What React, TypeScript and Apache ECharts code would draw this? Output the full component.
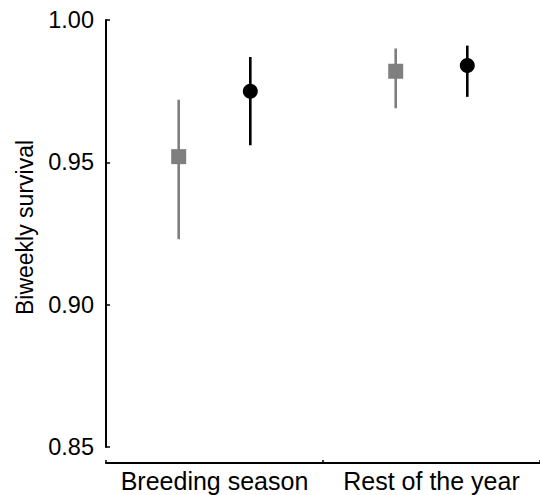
import React, { useEffect, useRef } from "react";
import * as echarts from "echarts";

const categories = ["Breeding season", "Rest of the year"];
const yTicks = [0.85, 0.9, 0.95, 1.0];

// Gray squares
const grayMean = [0.952, 0.982];
const grayLower = [0.923, 0.969];
const grayUpper = [0.972, 0.990];

// Black circles
const blackMean = [0.975, 0.984];
const blackLower = [0.956, 0.973];
const blackUpper = [0.987, 0.991];

const FONT = "'Liberation Sans', Arial, Helvetica, sans-serif";

function buildData(mean: number[], lower: number[], upper: number[]) {
  return categories.map((_, i) => [i, lower[i], mean[i], upper[i]]);
}

function makeRenderer(offset: number, color: string, shape: "square" | "circle") {
  return (params: any, api: any) => {
    const idx = api.value(0);
    const lo = api.coord([idx, api.value(1)]);
    const mid = api.coord([idx, api.value(2)]);
    const hi = api.coord([idx, api.value(3)]);
    const band = api.size([1, 0])[0];
    const x = mid[0] + offset * band;
    const marker =
      shape === "square"
        ? {
            type: "rect",
            shape: { x: x - 7.5, y: mid[1] - 7.5, width: 15, height: 15 },
            style: { fill: color },
          }
        : {
            type: "circle",
            shape: { cx: x, cy: mid[1], r: 7.5 },
            style: { fill: color },
          };
    return {
      type: "group",
      children: [
        {
          type: "line",
          shape: { x1: x, y1: lo[1], x2: x, y2: hi[1] },
          style: { stroke: color, lineWidth: 2.6 },
        },
        marker,
      ],
    };
  };
}

export default function App() {
  const ref = useRef<HTMLDivElement>(null);
  useEffect(() => {
    if (!ref.current) return;
    const chart = echarts.init(ref.current, undefined, { renderer: "svg" });
    chart.setOption({
      animation: false,
      backgroundColor: "#ffffff",
      grid: { left: 106, right: 0, top: 20, bottom: 48, containLabel: false },
      xAxis: {
        type: "category",
        data: categories,
        boundaryGap: true,
        offset: 16,
        axisLine: { show: true, lineStyle: { color: "#000", width: 2 } },
        axisTick: {
          show: true,
          inside: true,
          length: 3,
          interval: 0,
          alignWithLabel: false,
          lineStyle: { color: "#000", width: 1.5 },
        },
        axisLabel: { color: "#000", fontSize: 25, fontFamily: FONT, margin: 5, interval: 0 },
        splitLine: { show: false },
      },
      yAxis: {
        type: "value",
        min: 0.85,
        max: 1.0,
        interval: 0.05,
        name: "Biweekly survival",
        nameLocation: "middle",
        nameGap: 70,
        nameTextStyle: { color: "#000", fontSize: 23, fontFamily: FONT, padding: [0, 0, 0, 12] },
        axisLine: { show: true, lineStyle: { color: "#000", width: 2 } },
        axisTick: { show: true, inside: true, length: 4, lineStyle: { color: "#000", width: 1.5 } },
        axisLabel: {
          color: "#000",
          fontSize: 23.5,
          fontFamily: FONT,
          margin: 12,
          formatter: (v: number) => {
            const t = yTicks.find((k) => Math.abs(k - v) < 1e-9);
            return (t !== undefined ? t : v).toFixed(2);
          },
        },
        splitLine: { show: false },
      },
      series: [
        {
          type: "custom",
          name: "gray",
          renderItem: makeRenderer(-0.165, "#7f7f7f", "square"),
          encode: { x: 0, y: [1, 2, 3] },
          data: buildData(grayMean, grayLower, grayUpper),
          clip: false,
        },
        {
          type: "custom",
          name: "black",
          renderItem: makeRenderer(0.165, "#000000", "circle"),
          encode: { x: 0, y: [1, 2, 3] },
          data: buildData(blackMean, blackLower, blackUpper),
          clip: false,
        },
      ],
    });
    return () => chart.dispose();
  }, []);
  return (
    <div
      ref={ref}
      style={{ position: "absolute", left: 0, top: 0, width: 540, height: 495 }}
    />
  );
}
